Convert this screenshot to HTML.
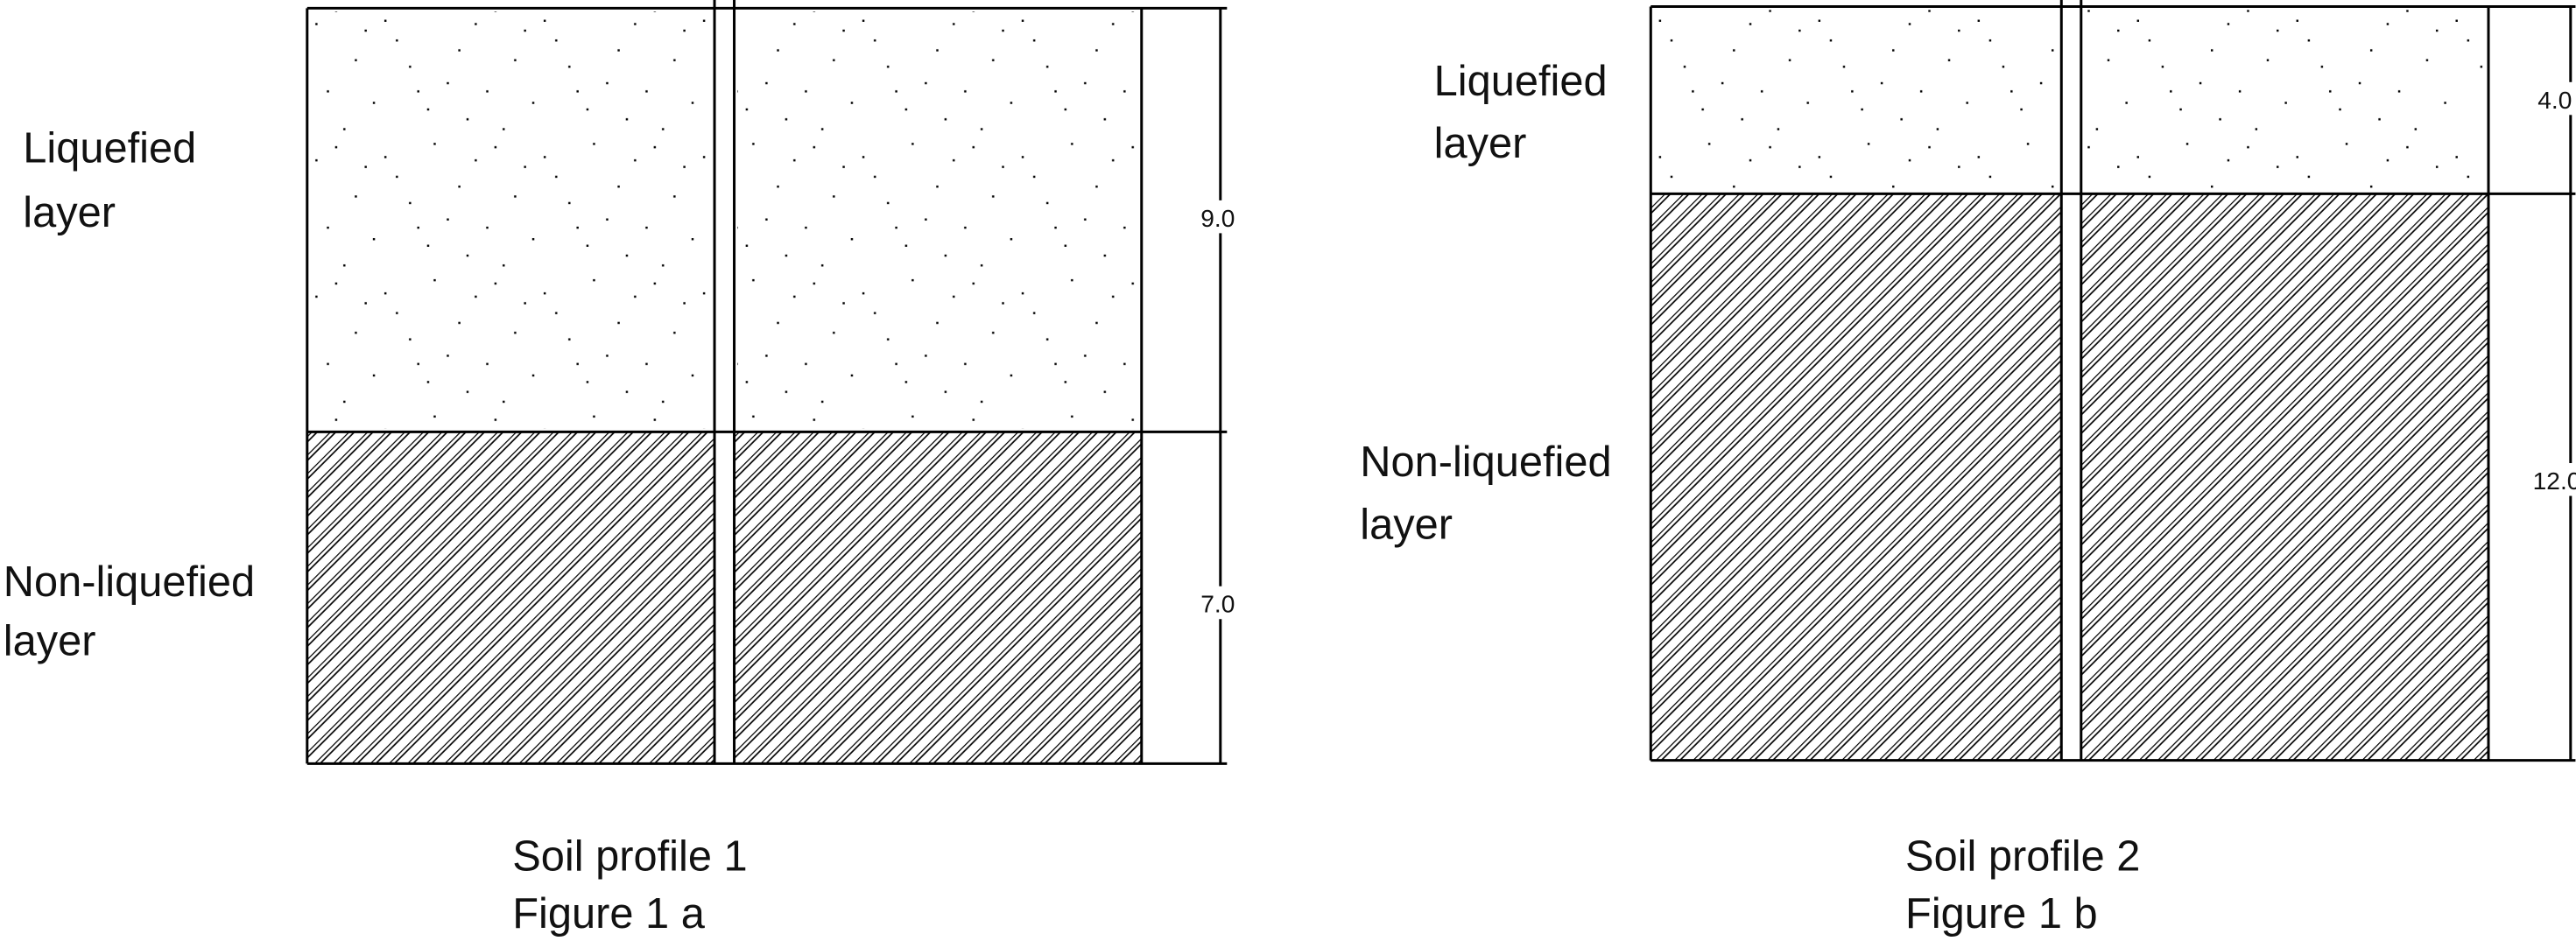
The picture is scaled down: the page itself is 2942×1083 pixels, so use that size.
<!DOCTYPE html>
<html><head><meta charset="utf-8"><style>
html,body{margin:0;padding:0;background:#fff;}
svg{display:block;}
text{font-family:"Liberation Sans",Arial,sans-serif;fill:#111;}
</style></head><body>
<svg width="2942" height="1083" viewBox="0 0 1568.3 577.3" preserveAspectRatio="none" xmlns="http://www.w3.org/2000/svg">
<defs>
<pattern id="h" width="8" height="8" patternUnits="userSpaceOnUse" patternTransform="rotate(45)">
<line x1="0" y1="0" x2="0" y2="8" stroke="#000" stroke-width="1.3"/>
<line x1="2.6" y1="0" x2="2.6" y2="8" stroke="#000" stroke-width="0.9"/>
</pattern>
<pattern id="d" width="97" height="83" patternUnits="userSpaceOnUse">
<g fill="#000">
<rect x="10" y="6" width="1.3" height="1.3"/><rect x="40" y="12" width="1.3" height="1.3"/>
<rect x="70" y="4" width="1.3" height="1.3"/><rect x="85" y="30" width="1.3" height="1.3"/>
<rect x="22" y="36" width="1.3" height="1.3"/><rect x="55" y="40" width="1.3" height="1.3"/>
<rect x="5" y="55" width="1.3" height="1.3"/><rect x="33" y="62" width="1.3" height="1.3"/>
<rect x="66" y="66" width="1.3" height="1.3"/><rect x="90" y="72" width="1.3" height="1.3"/>
<rect x="47" y="24" width="1.3" height="1.3"/><rect x="78" y="50" width="1.3" height="1.3"/>
<rect x="15" y="78" width="1.3" height="1.3"/><rect x="60" y="55" width="1.3" height="1.3"/>
<rect x="28" y="18" width="1.3" height="1.3"/><rect x="95" y="14" width="1.3" height="1.3"/>
</g></pattern>
</defs>
<g stroke="#000" stroke-width="1.6" fill="none">
<rect x="187" y="263" width="248" height="202" fill="url(#h)" stroke="none"/>
<rect x="447" y="263" width="248" height="202" fill="url(#h)" stroke="none"/>
<rect x="189" y="7" width="244" height="254" fill="url(#d)" stroke="none"/>
<rect x="449" y="7" width="244" height="254" fill="url(#d)" stroke="none"/>
<line x1="187" y1="5" x2="747" y2="5"/>
<line x1="187" y1="263" x2="747" y2="263"/>
<line x1="187" y1="465" x2="747" y2="465"/>
<line x1="187" y1="5" x2="187" y2="465"/>
<line x1="435" y1="0" x2="435" y2="465"/>
<line x1="447" y1="0" x2="447" y2="465"/>
<line x1="695" y1="5" x2="695" y2="465"/>
<line x1="743" y1="5" x2="743" y2="465"/>
<rect x="1005" y="118" width="250" height="345" fill="url(#h)" stroke="none"/>
<rect x="1267" y="118" width="248" height="345" fill="url(#h)" stroke="none"/>
<rect x="1007" y="6" width="246" height="110" fill="url(#d)" stroke="none"/>
<rect x="1269" y="6" width="244" height="110" fill="url(#d)" stroke="none"/>
<line x1="1005" y1="4" x2="1568" y2="4"/>
<line x1="1005" y1="118" x2="1568" y2="118"/>
<line x1="1005" y1="463" x2="1568" y2="463"/>
<line x1="1005" y1="4" x2="1005" y2="463"/>
<line x1="1255" y1="0" x2="1255" y2="463"/>
<line x1="1267" y1="0" x2="1267" y2="463"/>
<line x1="1515" y1="4" x2="1515" y2="463"/>
<line x1="1565" y1="4" x2="1565" y2="463"/>
</g>
<g fill="#fff">
<rect x="731" y="122" width="24" height="20"/>
<rect x="731" y="357" width="24" height="20"/>
<rect x="1544" y="50" width="22" height="20"/>
<rect x="1541" y="282" width="27" height="20"/>
</g>
<g font-size="15">
<text x="731" y="138">9.0</text>
<text x="731" y="373">7.0</text>
<text x="1545" y="66">4.0</text>
<text x="1542" y="298">12.0</text>
</g>
<g font-size="26">
<text x="14" y="99">Liquefied</text>
<text x="14" y="138">layer</text>
<text x="2" y="363">Non-liquefied</text>
<text x="2" y="399">layer</text>
<text x="873" y="58">Liquefied</text>
<text x="873" y="96">layer</text>
<text x="828" y="290">Non-liquefied</text>
<text x="828" y="328">layer</text>
<text x="312" y="530">Soil profile 1</text>
<text x="312" y="565">Figure 1 a</text>
<text x="1160" y="530">Soil profile 2</text>
<text x="1160" y="565">Figure 1 b</text>
</g>
</svg>
</body></html>
